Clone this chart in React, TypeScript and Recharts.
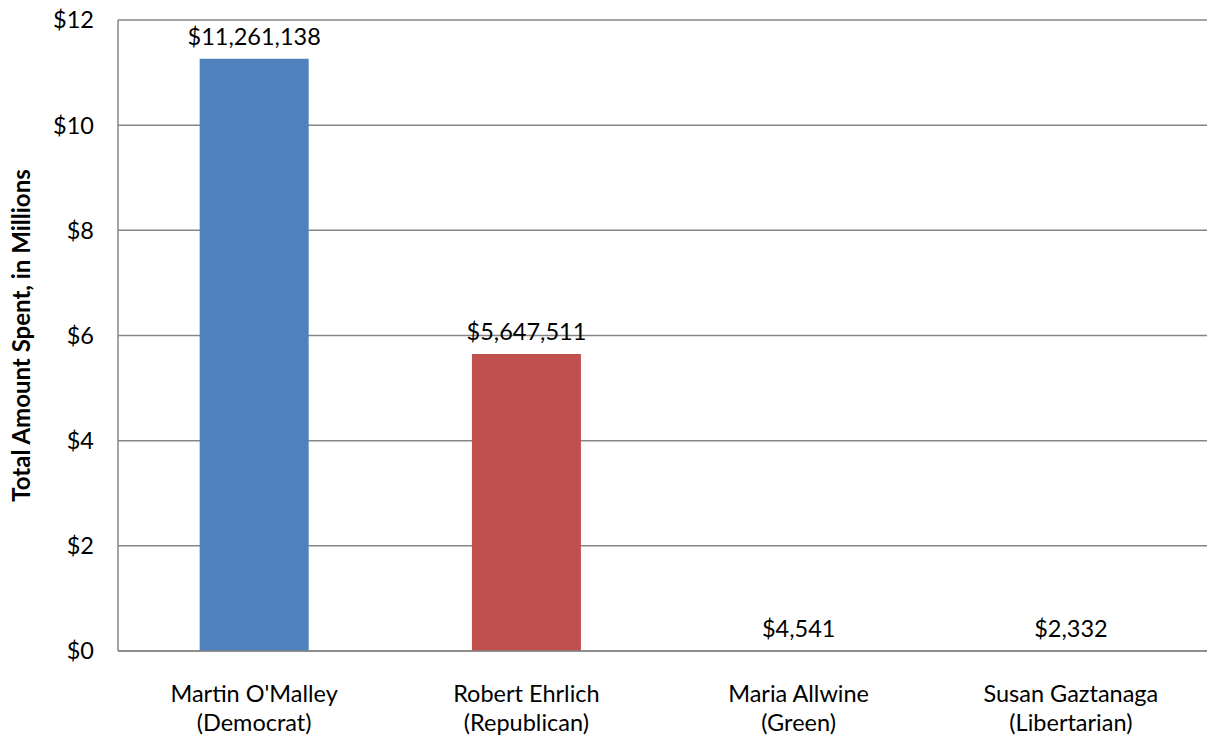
import React from 'react';
import { BarChart, Bar, XAxis, YAxis, CartesianGrid, Cell, LabelList, Label } from 'recharts';

const candidates = ["Martin O'Malley", 'Robert Ehrlich', 'Maria Allwine', 'Susan Gaztanaga'];
const parties = ['(Democrat)', '(Republican)', '(Green)', '(Libertarian)'];
const spentDollars = [11261138, 5647511, 4541, 2332];
const barColors = ['#4F81BD', '#C0504D', '#9BBB59', '#8064A2'];
const yTicks = [0, 2, 4, 6, 8, 10, 12];

const FONT = 'Lato, "Open Sans", sans-serif';

const data = candidates.map((name, i) => ({
  name,
  party: parties[i],
  dollars: spentDollars[i],
  millions: spentDollars[i] / 1e6,
}));

const CategoryTick = (props: any) => {
  const { x, y, payload, index } = props;
  return (
    <text x={x} y={y} textAnchor="middle" fill="#000" fontSize={23.5} fontFamily={FONT}>
      <tspan x={x} dy={43}>{payload.value}</tspan>
      <tspan x={x} dy={29}>{parties[index]}</tspan>
    </text>
  );
};

const App: React.FC = () => {
  return (
    <div style={{ width: 1209, height: 740, background: '#fff' }}>
      <style>{`body{margin:0}`}</style>
      <BarChart
        width={1209}
        height={740}
        data={data}
        margin={{ top: 20, right: 2, bottom: 0, left: 0 }}
        barCategoryGap="30%"
      >
        <CartesianGrid vertical={false} stroke="#868686" strokeWidth={1.5} />
        <XAxis
          dataKey="name"
          height={89}
          tickLine={false}
          axisLine={{ stroke: '#868686', strokeWidth: 1.5 }}
          tick={<CategoryTick />}
          interval={0}
        />
        <YAxis
          width={118}
          domain={[0, 12]}
          ticks={yTicks}
          tickLine={false}
          tickMargin={18}
          axisLine={{ stroke: '#868686', strokeWidth: 1.5 }}
          tick={{ fill: '#000', fontSize: 23.5, fontFamily: FONT }}
          tickFormatter={(v: number) => `$${v}`}
        >
          <Label
            value="Total Amount Spent, in Millions"
            angle={-90}
            position="insideLeft"
            offset={21}
            style={{ textAnchor: 'middle', fontWeight: 700, fontSize: 24, fontFamily: FONT, fill: '#000' }}
          />
        </YAxis>
        <Bar dataKey="millions" isAnimationActive={false}>
          {data.map((d, i) => (
            <Cell key={d.name} fill={barColors[i]} />
          ))}
          <LabelList
            dataKey="dollars"
            position="top"
            offset={14}
            fill="#000"
            fontSize={23.5}
            fontFamily={FONT}
            formatter={(v: any) => `$${Number(v).toLocaleString('en-US')}`}
          />
        </Bar>
      </BarChart>
    </div>
  );
};

export default App;
